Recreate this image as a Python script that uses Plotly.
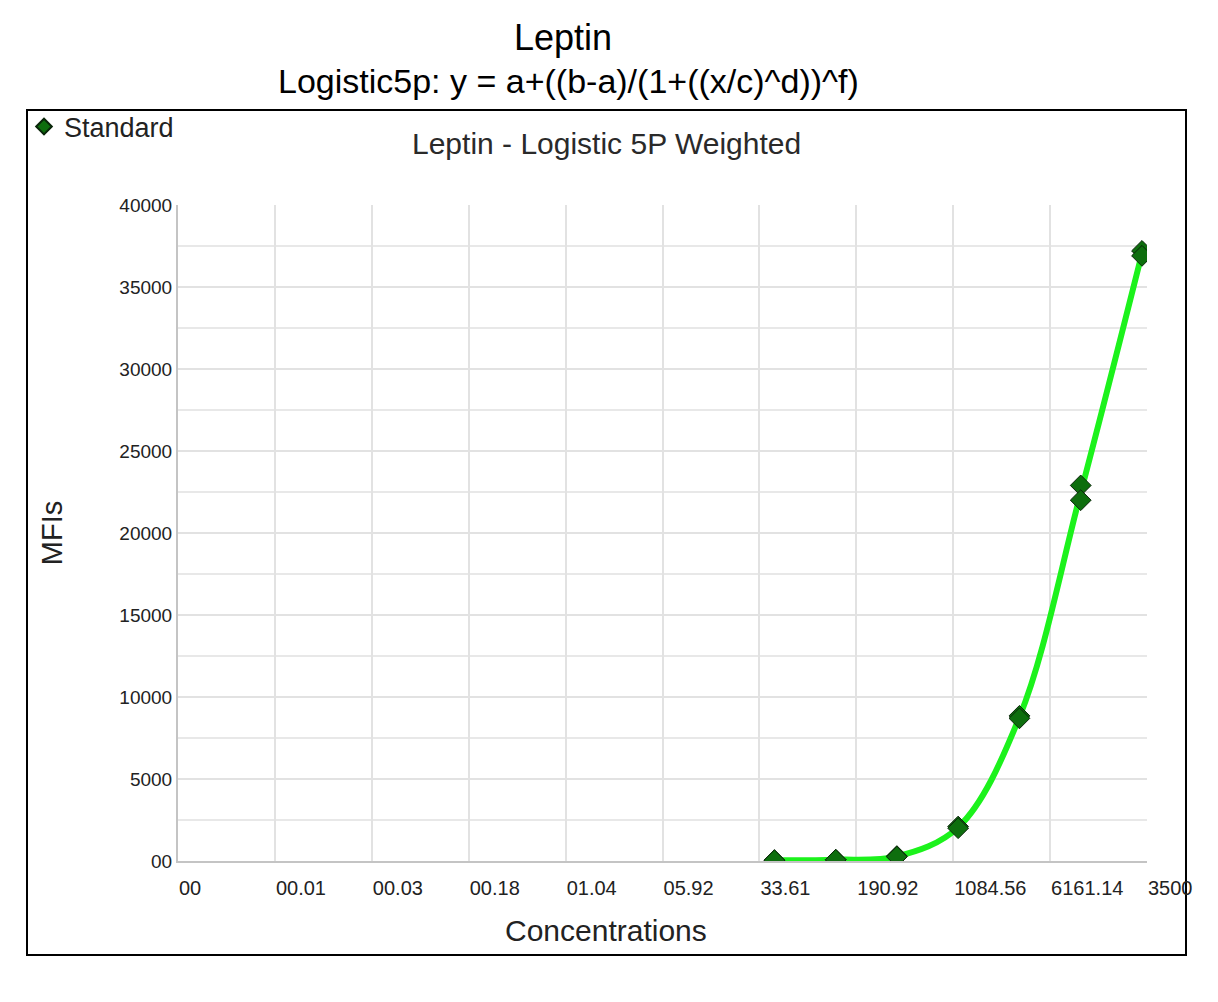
import plotly.graph_objects as go

# standard dilution series (1:3) and the duplicate MFI readings
conc = [44, 132, 395, 1185, 3556, 10667, 32000]
mfi_rep1 = [50, 80, 300, 2100, 8850, 22900, 37200]
mfi_rep2 = [45, 75, 260, 2000, 8700, 22000, 36900]

# fitted curve drawn through the mean of each duplicate pair
mfi_mean = [(a + b) / 2 for a, b in zip(mfi_rep1, mfi_rep2)]

x_tickvals = [0.001, 0.00568, 0.0323, 0.1834, 1.042, 5.92, 33.61, 190.92, 1084.56, 6161.14, 35000]
x_ticktext = ["00", "00.01", "00.03", "00.18", "01.04", "05.92", "33.61", "190.92", "1084.56", "6161.14", "3500"]
y_tickvals = [0, 5000, 10000, 15000, 20000, 25000, 30000, 35000, 40000]
y_ticktext = ["00", "5000", "10000", "15000", "20000", "25000", "30000", "35000", "40000"]

# page body adds an 8px margin, so the figure is drawn 8px in from the window corner
OFF = 8
W, H = 1218 - 2 * OFF, 1002 - 2 * OFF
L, R, T, B = 178, 1147, 205, 861   # plot area in window pixels


def px(x):
    return (x - L) / (R - L)


def py(y):
    return (B - y) / (B - T)


fig = go.Figure()

fig.add_trace(go.Scatter(
    x=conc, y=mfi_mean, mode="lines", line=dict(color="#1cf21c", width=6, shape="spline", smoothing=1.0),
    showlegend=False, hoverinfo="skip"
))

fig.add_trace(go.Scatter(
    x=conc + conc, y=mfi_rep1 + mfi_rep2, mode="markers", name="Standard",
    marker=dict(symbol="diamond", size=16, color="#0e6e0e", line=dict(color="#0a260a", width=1))
))

fig.update_layout(
    width=W, height=H,
    margin=dict(l=L - OFF, r=W - (R - OFF), t=T - OFF, b=H - (B - OFF), pad=0),
    paper_bgcolor="white", plot_bgcolor="white",
    font=dict(family="Liberation Sans, Arial, sans-serif", color="#222222"),
    showlegend=True,
    legend=dict(x=px(24), y=py(127), xanchor="left", yanchor="middle", font=dict(size=27, color="#222222"),
                bgcolor="rgba(0,0,0,0)", itemsizing="constant", tracegroupgap=0),
)

fig.update_xaxes(
    type="log", range=[-3, 4.54407], tickvals=x_tickvals, ticktext=x_ticktext,
    ticklabelposition="outside right", ticklabelstandoff=8, tickfont=dict(size=20, color="#222222"),
    showgrid=True, gridcolor="#e2e2e2", gridwidth=1.5,
    showline=True, linecolor="#c4c4c4", linewidth=2, ticks="", zeroline=False,
)
fig.update_yaxes(
    range=[0, 40000], tickvals=y_tickvals, ticktext=y_ticktext,
    tickfont=dict(size=19, color="#222222"),
    showgrid=True, gridcolor="#e2e2e2", gridwidth=1.5,
    minor=dict(dtick=2500, showgrid=True, gridcolor="#e8e8e8", gridwidth=1.5),
    showline=True, linecolor="#c4c4c4", linewidth=2, ticks="", zeroline=False,
    title=dict(text="MFIs", font=dict(size=29, color="#222222"), standoff=48),
)

# black frame around the chart area
fig.add_shape(type="rect", xref="paper", yref="paper",
              x0=px(27), x1=px(1186), y0=py(955), y1=py(110),
              line=dict(color="black", width=2), fillcolor="rgba(0,0,0,0)", layer="below")

fig.add_annotation(text="Leptin", xref="paper", yref="paper", x=px(563), y=py(38),
                   showarrow=False, font=dict(size=36, color="black"), xanchor="center", yanchor="middle")
fig.add_annotation(text="Logistic5p: y = a+((b-a)/(1+((x/c)^d))^f)", xref="paper", yref="paper",
                   x=px(568), y=py(81), showarrow=False, font=dict(size=34, color="black"),
                   xanchor="center", yanchor="middle")
fig.add_annotation(text="Leptin - Logistic 5P Weighted", xref="paper", yref="paper", x=px(606), y=py(143),
                   showarrow=False, font=dict(size=30, color="#2a2a2a"), xanchor="center", yanchor="middle")
fig.add_annotation(text="Concentrations", xref="paper", yref="paper", x=px(606), y=py(930),
                   showarrow=False, font=dict(size=30, color="#222222"), xanchor="center", yanchor="middle")

fig.write_html("out.html")
